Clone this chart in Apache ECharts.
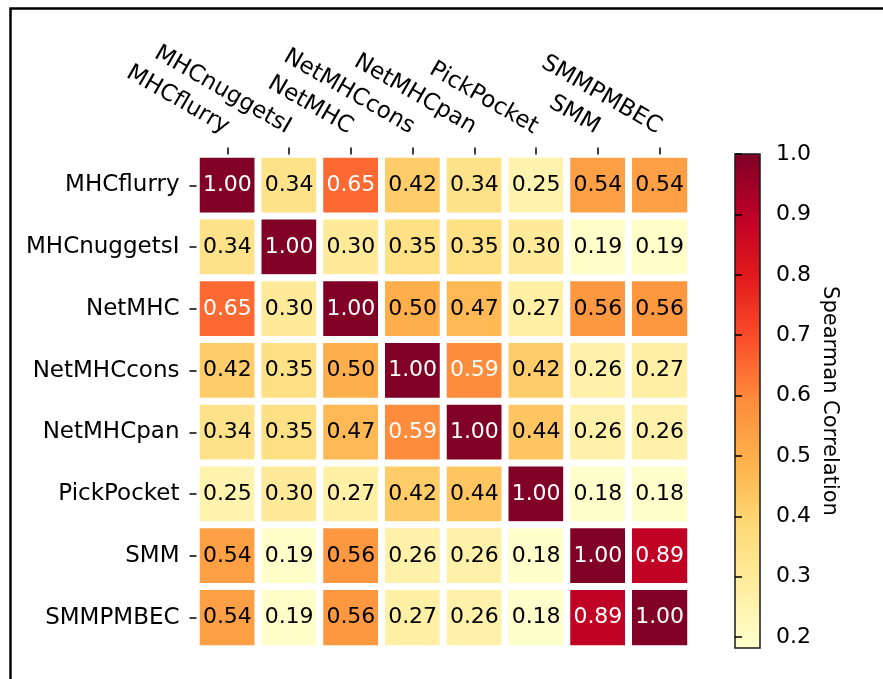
<!DOCTYPE html>
<html>
<head>
<meta charset="utf-8">
<script src="https://cdn.jsdelivr.net/npm/echarts@6/dist/echarts.min.js"></script>
<style>
html,body{margin:0;padding:0;background:#fff;}
#chart{width:883px;height:679px;}
</style>
</head>
<body>
<div id="chart"></div>
<script>
const categories = ['MHCflurry','MHCnuggetsI','NetMHC','NetMHCcons','NetMHCpan','PickPocket','SMM','SMMPMBEC'];
const rowMHCflurry   = [1.00, 0.34, 0.65, 0.42, 0.34, 0.25, 0.54, 0.54];
const rowMHCnuggetsI = [0.34, 1.00, 0.30, 0.35, 0.35, 0.30, 0.19, 0.19];
const rowNetMHC      = [0.65, 0.30, 1.00, 0.50, 0.47, 0.27, 0.56, 0.56];
const rowNetMHCcons  = [0.42, 0.35, 0.50, 1.00, 0.59, 0.42, 0.26, 0.27];
const rowNetMHCpan   = [0.34, 0.35, 0.47, 0.59, 1.00, 0.44, 0.26, 0.26];
const rowPickPocket  = [0.25, 0.30, 0.27, 0.42, 0.44, 1.00, 0.18, 0.18];
const rowSMM         = [0.54, 0.19, 0.56, 0.26, 0.26, 0.18, 1.00, 0.89];
const rowSMMPMBEC    = [0.54, 0.19, 0.56, 0.27, 0.26, 0.18, 0.89, 1.00];
const colorbarTicks  = [0.2, 0.3, 0.4, 0.5, 0.6, 0.7, 0.8, 0.9, 1.0];
const colorMin = 0.182;
const colorMax = 1.0;
const colorbarTitle = 'Spearman Correlation';

const rows = [rowMHCflurry, rowMHCnuggetsI, rowNetMHC, rowNetMHCcons, rowNetMHCpan, rowPickPocket, rowSMM, rowSMMPMBEC];
const ylOrRd = ['#ffffcc','#ffeda0','#fed976','#feb24c','#fd8d3c','#fc4e2a','#e31a1c','#bd0026','#800026'];
const FONT = 'DejaVu Sans';

const data = [];
rows.forEach((row, r) => {
  row.forEach((v, c) => {
    data.push({ value: [c, r, v], label: { color: v > 0.58 ? '#ffffff' : '#000000' } });
  });
});

const chart = echarts.init(document.getElementById('chart'), null, { renderer: 'canvas' });
chart.setOption({
  animation: false,
  backgroundColor: '#ffffff',
  textStyle: { fontFamily: FONT },
  graphic: [{
    type: 'rect', left: 8, top: 6, z: 100, silent: true,
    shape: { width: 900, height: 700 },
    style: { fill: 'none', stroke: '#000', lineWidth: 2.5 }
  }],
  grid: [
    { left: 196.5, top: 154.5, width: 494, height: 494 },
    { left: 735, top: 154, width: 25, height: 494, show: true, borderColor: '#1a1a1a', borderWidth: 1.5, backgroundColor: 'transparent', z: 10 }
  ],
  xAxis: [
    {
      type: 'category', data: categories, position: 'top', gridIndex: 0, z: 5,
      axisLine: { show: false },
      axisTick: { show: true, alignWithLabel: true, length: 7, lineStyle: { color: '#000', width: 1.5 } },
      axisLabel: { interval: 0, rotate: 30, fontSize: 23, color: '#000', fontFamily: FONT, margin: 26, hideOverlap: false },
      splitLine: { show: false }
    },
    { type: 'value', gridIndex: 1, show: false, min: 0, max: 1 }
  ],
  yAxis: [
    {
      type: 'category', data: categories, inverse: true, gridIndex: 0, z: 5,
      axisLine: { show: false },
      axisTick: { show: true, alignWithLabel: true, length: 7, lineStyle: { color: '#000', width: 1.5 } },
      axisLabel: { interval: 0, fontSize: 23, color: '#000', fontFamily: FONT, margin: 17 },
      splitLine: { show: false }
    },
    {
      type: 'value', gridIndex: 1, position: 'right', min: colorMin, max: colorMax, z: 11,
      axisLine: { show: false },
      splitLine: { show: false },
      axisTick: { show: true, length: 7, customValues: colorbarTicks, lineStyle: { color: '#000', width: 1.5 } },
      axisLabel: { customValues: colorbarTicks, fontSize: 22, color: '#000', fontFamily: FONT, margin: 16, formatter: v => v.toFixed(1) },
      name: colorbarTitle, nameLocation: 'middle', nameRotate: -90, nameGap: 59,
      nameTextStyle: { fontSize: 21, color: '#000', fontFamily: FONT }
    }
  ],
  visualMap: {
    type: 'continuous', min: colorMin, max: colorMax, seriesIndex: 0,
    orient: 'vertical', left: 735, top: 154, itemWidth: 25, itemHeight: 494,
    padding: 0, calculable: false, text: null, hoverLink: false, z: 2,
    inRange: { color: ylOrRd }
  },
  series: [{
    type: 'heatmap', xAxisIndex: 0, yAxisIndex: 0,
    data: data,
    itemStyle: { borderColor: '#ffffff', borderWidth: 7 },
    label: { show: true, fontSize: 22, fontFamily: FONT, formatter: p => p.value[2].toFixed(2) },
    emphasis: { disabled: true }
  }]
});
</script>
</body>
</html>
